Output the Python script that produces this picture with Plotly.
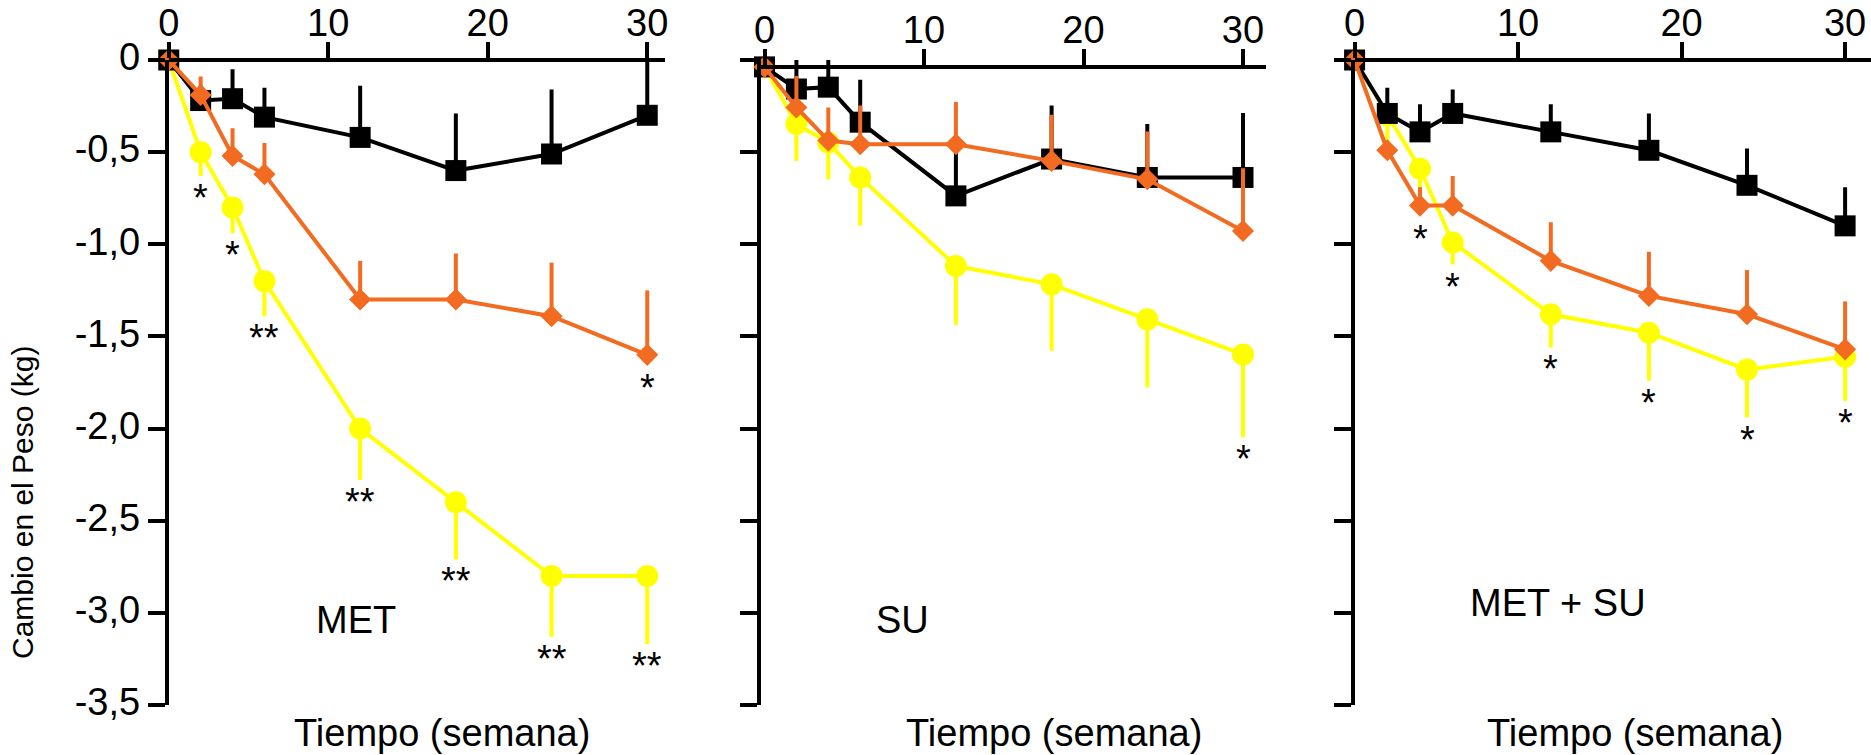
import plotly.graph_objects as go

# ---------------------------------------------------------------- data
weeks = [0, 2, 4, 6, 12, 18, 24, 30]

# MET panel
met_black = [0, -0.22, -0.21, -0.31, -0.42, -0.60, -0.51, -0.30]
met_black_err = [0, 0.08, 0.16, 0.16, 0.28, 0.31, 0.35, 0.29]
met_orange = [0, -0.19, -0.52, -0.62, -1.30, -1.30, -1.39, -1.60]
met_orange_err = [0.05, 0.10, 0.15, 0.17, 0.21, 0.25, 0.29, 0.35]
met_yellow = [0, -0.50, -0.80, -1.20, -2.00, -2.40, -2.80, -2.80]
met_yellow_err = [0, 0.13, 0.14, 0.19, 0.28, 0.31, 0.33, 0.37]

# SU panel
su_black = [0, -0.12, -0.11, -0.30, -0.70, -0.50, -0.60, -0.60]
su_black_err = [0, 0.21, 0.23, 0.23, 0.25, 0.29, 0.29, 0.35]
su_orange = [0, -0.22, -0.40, -0.42, -0.42, -0.51, -0.61, -0.89]
su_orange_err = [0, 0.17, 0.18, 0.21, 0.23, 0.25, 0.26, 0.34]
su_yellow = [0, -0.31, -0.41, -0.60, -1.08, -1.18, -1.37, -1.56]
su_yellow_err = [0, 0.20, 0.20, 0.26, 0.32, 0.36, 0.37, 0.45]

# MET + SU panel
metsu_black = [0, -0.29, -0.39, -0.29, -0.39, -0.49, -0.68, -0.90]
metsu_black_err = [0, 0.14, 0.15, 0.13, 0.15, 0.20, 0.20, 0.21]
metsu_orange = [0, -0.49, -0.79, -0.79, -1.09, -1.28, -1.38, -1.57]
metsu_orange_err = [0, 0.0, 0.10, 0.16, 0.21, 0.24, 0.24, 0.26]
metsu_yellow = [0, -0.30, -0.59, -0.99, -1.38, -1.48, -1.68, -1.61]
metsu_yellow_err = [0, 0.18, 0.14, 0.12, 0.18, 0.26, 0.26, 0.24]

# significance marks: (series, week index, text)
met_stars = [("yellow", 1, "*"), ("yellow", 2, "*"), ("yellow", 3, "**"),
             ("yellow", 4, "**"), ("yellow", 5, "**"), ("yellow", 6, "**"),
             ("yellow", 7, "**"), ("orange", 7, "*")]
su_stars = [("yellow", 7, "*")]
metsu_stars = [("orange", 2, "*"), ("yellow", 3, "*"), ("yellow", 4, "*"),
               ("yellow", 5, "*"), ("yellow", 6, "*"), ("yellow", 7, "*")]

panel_titles = ["MET", "SU", "MET + SU"]
x_ticks = [0, 10, 20, 30]
y_tickvals = [0, -0.5, -1.0, -1.5, -2.0, -2.5, -3.0, -3.5]
y_ticktext = ["0", "-0,5", "-1,0", "-1,5", "-2,0", "-2,5", "-3,0", "-3,5"]

# ---------------------------------------------------------------- styling
W, H = 1871, 755
TOP_PX, BOTTOM_PX = 60, 705
FONT = "Liberation Sans, Arial, Helvetica, sans-serif"
FS = 38
BLACK, ORANGE, YELLOW = "#000000", "#F26B21", "#FFFF00"
Y_LO, Y_HI = -3.5, 0.0


def fy(py):
    """figure pixel row -> paper fraction"""
    return (H - py) / H


def fx(px):
    return px / W


# axis placement of each panel (pixels): y-axis line, x of week 0, px per week, right end
panels = [
    dict(axis_x=168.75, zero_x=168.75, ppw=15.95, right=665.0, shift=0.0,
         title_xy=(356, 620), xlabel_x=442),
    dict(axis_x=760.5, zero_x=764.5, ppw=15.95, right=1266.4, shift=0.0374,
         title_xy=(902, 620), xlabel_x=1054),
    dict(axis_x=1354.6, zero_x=1354.6, ppw=16.35, right=1871.0, shift=0.0,
         title_xy=(1558, 603), xlabel_x=1635),
]

series = [
    dict(black=met_black, black_err=met_black_err, orange=met_orange,
         orange_err=met_orange_err, yellow=met_yellow, yellow_err=met_yellow_err,
         stars=met_stars),
    dict(black=su_black, black_err=su_black_err, orange=su_orange,
         orange_err=su_orange_err, yellow=su_yellow, yellow_err=su_yellow_err,
         stars=su_stars),
    dict(black=metsu_black, black_err=metsu_black_err, orange=metsu_orange,
         orange_err=metsu_orange_err, yellow=metsu_yellow, yellow_err=metsu_yellow_err,
         stars=metsu_stars),
]

fig = go.Figure()
annotations = []
zeros = [0] * len(weeks)

for i, (pan, ser) in enumerate(zip(panels, series), start=1):
    xa, ya = f"x{i}", f"y{i}"

    # yellow circles: error bars pointing down
    fig.add_trace(go.Scatter(
        x=weeks, y=ser["yellow"], mode="lines+markers", xaxis=xa, yaxis=ya,
        line=dict(color=YELLOW, width=4),
        marker=dict(symbol="circle", size=22, color=YELLOW),
        error_y=dict(type="data", symmetric=False, array=zeros,
                     arrayminus=ser["yellow_err"], color=YELLOW, thickness=4, width=0),
        cliponaxis=False, showlegend=False, name="circulo"))
    # black squares: error bars pointing up
    fig.add_trace(go.Scatter(
        x=weeks, y=ser["black"], mode="lines+markers", xaxis=xa, yaxis=ya,
        line=dict(color=BLACK, width=4),
        marker=dict(symbol="square", size=21, color=BLACK),
        error_y=dict(type="data", symmetric=False, array=ser["black_err"],
                     arrayminus=zeros, color=BLACK, thickness=4, width=0),
        cliponaxis=False, showlegend=False, name="cuadrado"))
    # orange diamonds: error bars pointing up
    fig.add_trace(go.Scatter(
        x=weeks, y=ser["orange"], mode="lines+markers", xaxis=xa, yaxis=ya,
        line=dict(color=ORANGE, width=4),
        marker=dict(symbol="diamond", size=17, color=ORANGE),
        error_y=dict(type="data", symmetric=False, array=ser["orange_err"],
                     arrayminus=zeros, color=ORANGE, thickness=4, width=0),
        cliponaxis=False, showlegend=False, name="rombo"))

    # axes
    x_lo = (pan["axis_x"] - pan["zero_x"]) / pan["ppw"]
    x_hi = (pan["right"] - pan["zero_x"]) / pan["ppw"]
    top_pos = 1.0 - pan["shift"] / (Y_HI - Y_LO)
    dom_lo, dom_hi = fy(BOTTOM_PX), fy(TOP_PX)
    xaxis = dict(
        domain=[fx(pan["axis_x"]), fx(pan["right"])], range=[x_lo, x_hi],
        side="top", anchor="free",
        position=dom_lo + (dom_hi - dom_lo) * top_pos,
        automargin=False,
        showline=True, linecolor="black", linewidth=4,
        ticks="outside", ticklen=16, tickwidth=4, tickcolor="black",
        ticklabelstandoff=-9,
        tickvals=x_ticks, tickfont=dict(family=FONT, size=FS, color="black"),
        showgrid=False, zeroline=False)
    yaxis = dict(
        domain=[dom_lo, dom_hi],
        range=[Y_LO + pan["shift"], Y_HI + pan["shift"]],
        anchor=xa, automargin=False,
        showline=True, linecolor="black", linewidth=4,
        ticks="outside", ticklen=17, tickwidth=4, tickcolor="black",
        showgrid=False, zeroline=False)
    if i == 1:
        yaxis.update(tickmode="array", tickvals=y_tickvals, ticktext=y_ticktext,
                     tickfont=dict(family=FONT, size=FS, color="black"),
                     ticklabelshift=-3)
    else:
        yaxis.update(tickmode="linear", tick0=pan["shift"], dtick=0.5,
                     showticklabels=False)
    fig.update_layout(**{f"xaxis{i}": xaxis, f"yaxis{i}": yaxis})

    # panel name and x-axis title
    tx, ty = pan["title_xy"]
    annotations.append(dict(text=panel_titles[i - 1], x=fx(tx), y=fy(ty),
                            xref="paper", yref="paper", showarrow=False,
                            xanchor="center", yanchor="middle",
                            font=dict(family=FONT, size=FS, color="black")))
    annotations.append(dict(text="Tiempo (semana)", x=fx(pan["xlabel_x"]), y=fy(733),
                            xref="paper", yref="paper", showarrow=False,
                            xanchor="center", yanchor="middle",
                            font=dict(family=FONT, size=FS, color="black")))

    # significance asterisks below the lower end of each flagged point
    for key, idx, txt in ser["stars"]:
        val = ser[key][idx]
        gap = 16
        if key == "yellow":
            val -= ser["yellow_err"][idx]
        else:
            gap += 11
        annotations.append(dict(text=txt, x=weeks[idx], y=val, xref=xa, yref=ya,
                                showarrow=False, xanchor="center", yanchor="middle",
                                yshift=-gap - 6,
                                font=dict(family=FONT, size=FS, color="black")))

annotations.append(dict(text="Cambio en el Peso (kg)", x=fx(22), y=fy(503),
                        xref="paper", yref="paper", showarrow=False, textangle=-90,
                        xanchor="center", yanchor="middle",
                        font=dict(family=FONT, size=30, color="black")))

fig.update_layout(width=W, height=H, margin=dict(l=0, r=0, t=0, b=0, pad=0),
                  paper_bgcolor="white", plot_bgcolor="white",
                  annotations=annotations, showlegend=False)

fig.write_html("out.html")
